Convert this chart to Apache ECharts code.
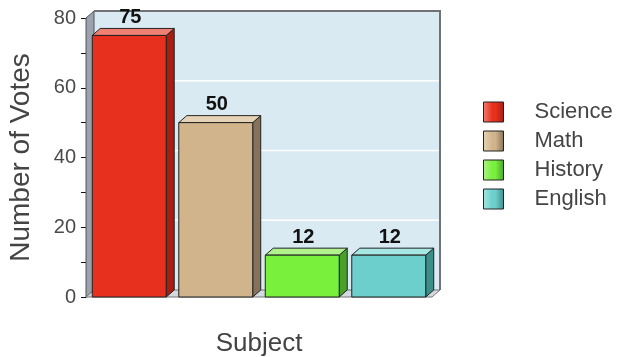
<!DOCTYPE html>
<html>
<head>
<meta charset="utf-8">
<script src="https://cdn.jsdelivr.net/npm/echarts@6/dist/echarts.min.js"></script>
<style>
  html, body { margin: 0; padding: 0; background: #fff; }
  #main { width: 617px; height: 357px; }
</style>
</head>
<body>
<div id="main"></div>
<script>
// chart data
var subjects = ['Science', 'Math', 'History', 'English'];
var votes = [75, 50, 12, 12];
var yTicks = [0, 20, 40, 60, 80];

// front / side / top colours for each bar
var faceColors = [
  { front: '#e8301e', side: '#a61f12', top: '#ef8073' },
  { front: '#d2b48c', side: '#86725a', top: '#e6d3b5' },
  { front: '#78f03c', side: '#48a22a', top: '#b0f28c' },
  { front: '#6ccfcb', side: '#3c8e8b', top: '#a6e6e3' }
];

var DX = 8, DY = 7; // 3d depth

function renderWalls(params, api) {
  var cs = params.coordSys;
  var left = cs.x, right = cs.x + cs.width, top = cs.y, bottom = cs.y + cs.height;
  var kids = [
    { type: 'rect', shape: { x: left + DX, y: top - DY, width: cs.width, height: cs.height },
      style: { fill: '#d9eaf3', stroke: null } },
    { type: 'polygon', shape: { points: [[left, top], [left + DX, top - DY], [left + DX, bottom - DY], [left, bottom]] },
      style: { fill: '#9aa3ae', stroke: '#555', lineWidth: 1 } },
    { type: 'polygon', shape: { points: [[left, bottom], [left + DX, bottom - DY], [right + DX, bottom - DY], [right, bottom]] },
      style: { fill: '#d3d9de', stroke: '#777', lineWidth: 1 } }
  ];
  yTicks.forEach(function (v) {
    if (v === 0 || v === yTicks[yTicks.length - 1]) return;
    var y = api.coord([0, v])[1] - DY;
    kids.push({ type: 'line', shape: { x1: left + DX, y1: y, x2: right + DX, y2: y },
      style: { stroke: '#ffffff', lineWidth: 1.5 } });
  });
  kids.push({ type: 'polyline', shape: { points: [[left + DX, top - DY], [right + DX, top - DY], [right + DX, bottom - DY]] },
    style: { stroke: '#6f7377', lineWidth: 2, fill: null } });
  return { type: 'group', children: kids };
}

function renderBar(params, api) {
  var cat = api.value(0), val = api.value(1);
  var p = api.coord([cat, val]);
  var base = api.coord([cat, 0]);
  var bw = api.size([1, 0])[0] * 0.855;
  var x0 = p[0] - bw / 2, x1 = p[0] + bw / 2, y0 = p[1], y1 = base[1];
  var c = faceColors[params.seriesIndex - 1];
  return {
    type: 'group',
    children: [
      { type: 'polygon', shape: { points: [[x1, y0], [x1 + DX, y0 - DY], [x1 + DX, y1 - DY], [x1, y1]] },
        style: { fill: c.side, stroke: '#222', lineWidth: 1 } },
      { type: 'polygon', shape: { points: [[x0, y0], [x0 + DX, y0 - DY], [x1 + DX, y0 - DY], [x1, y0]] },
        style: { fill: c.top, stroke: '#222', lineWidth: 1 } },
      { type: 'rect', shape: { x: x0, y: y0, width: bw, height: y1 - y0 },
        style: { fill: c.front, stroke: '#222', lineWidth: 1 } },
      { type: 'text', x: p[0] + 1, y: y0 - DY - 1,
        style: { text: String(val), align: 'center', verticalAlign: 'bottom',
          font: 'bold 20px "Liberation Sans", Arial, sans-serif', fill: '#111' } }
    ]
  };
}

var series = [{
  type: 'custom', name: 'walls', silent: true, z: 1,
  renderItem: renderWalls, data: [[0, 0]]
}];
subjects.forEach(function (s, i) {
  series.push({
    type: 'custom', name: s, z: 2,
    renderItem: renderBar,
    itemStyle: { color: faceColors[i].front },
    data: [[i, votes[i]]]
  });
});

var myChart = echarts.init(document.getElementById('main'));
var option = {
  animation: false,
  grid: { left: 86, right: 185, top: 18, bottom: 60, outerBoundsMode: 'none' },
  legend: {
    orient: 'vertical', left: 478, top: 96,
    itemWidth: 20, itemHeight: 20, itemGap: 7,
    icon: 'rect',
    data: subjects.map(function (s, i) {
      return {
        name: s,
        itemStyle: {
          color: new echarts.graphic.LinearGradient(0, 0, 1, 0, [
            { offset: 0, color: faceColors[i].top },
            { offset: 0.45, color: faceColors[i].front },
            { offset: 0.6, color: faceColors[i].front },
            { offset: 1, color: faceColors[i].side }
          ]),
          borderColor: '#222', borderWidth: 1
        }
      };
    }),
    textStyle: { fontSize: 22, color: '#444', fontFamily: '"Liberation Sans", Arial, sans-serif', padding: [0, 0, 0, 26] }
  },
  xAxis: {
    type: 'category',
    data: subjects,
    name: 'Subject', nameLocation: 'middle', nameGap: 34,
    nameTextStyle: { fontSize: 26, color: '#444', fontFamily: '"Liberation Sans", Arial, sans-serif' },
    axisLine: { show: false },
    axisTick: { show: false },
    axisLabel: { show: false },
    splitLine: { show: false }
  },
  yAxis: {
    type: 'value', min: 0, max: 80, interval: 20,
    name: 'Number of Votes', nameLocation: 'middle', nameGap: 51,
    nameTextStyle: { fontSize: 28, color: '#444', fontFamily: '"Liberation Sans", Arial, sans-serif' },
    axisLine: { show: true, lineStyle: { color: '#111', width: 1 } },
    axisTick: { show: true, length: 5, lineStyle: { color: '#111' } },
    minorTick: { show: true, splitNumber: 2, length: 5, lineStyle: { color: '#111' } },
    axisLabel: { fontSize: 20, color: '#4a4a4a', margin: 10, fontFamily: '"Liberation Sans", Arial, sans-serif' },
    splitLine: { show: false }
  },
  series: series
};
myChart.setOption(option);
</script>
</body>
</html>
